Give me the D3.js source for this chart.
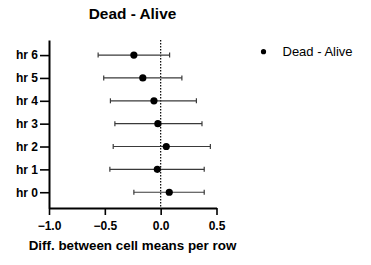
<!DOCTYPE html>
<html>
<head>
<meta charset="utf-8">
<script src="https://cdn.jsdelivr.net/npm/d3@7"></script>
<style>
  body { margin: 0; background: #fff; }
  svg { font-family: "Liberation Sans", Arial, Helvetica, sans-serif; }
</style>
</head>
<body>
<svg id="chart" width="371" height="265"></svg>
<script>
// rows, bottom to top
const rows = ["hr 0", "hr 1", "hr 2", "hr 3", "hr 4", "hr 5", "hr 6"];
const diffs = [0.077, -0.03, 0.05, -0.025, -0.06, -0.16, -0.24];
const lowerCI = [-0.24, -0.455, -0.425, -0.41, -0.45, -0.51, -0.56];
const upperCI = [0.39, 0.39, 0.445, 0.37, 0.32, 0.19, 0.08];
const xTicks = [-1.0, -0.5, 0.0, 0.5];
const seriesName = "Dead - Alive";

var margin = {top: 40, right: 155, bottom: 57, left: 49},
    width = 371,
    height = 265,
    usable_width = width - margin.left - margin.right,
    usable_height = height - margin.top - margin.bottom;

var data = rows.map(function(r, i) {
    return {row: r, idx: i, d: diffs[i], lo: lowerCI[i], hi: upperCI[i]};
});

var xScale = d3.scaleLinear().domain([-1, 0.5]).range([0, usable_width + 0.5]);
var yScale = d3.scaleLinear().domain([-0.69, 6.66]).range([usable_height, 0]);

var svg = d3.select("#chart");
var g = svg.append("g").attr("transform", "translate(" + margin.left + "," + margin.top + ")");

// zero reference line
g.append("line")
    .attr("x1", xScale(0)).attr("x2", xScale(0))
    .attr("y1", 0).attr("y2", usable_height)
    .attr("stroke", "#000").attr("stroke-width", 1.2)
    .attr("stroke-dasharray", "1.5,1.5");

// error bars
var bars = g.selectAll(".bar").data(data).enter().append("g").attr("class", "bar");
bars.append("line")
    .attr("x1", function(d){return xScale(d.lo)})
    .attr("x2", function(d){return xScale(d.hi)})
    .attr("y1", function(d){return yScale(d.idx)})
    .attr("y2", function(d){return yScale(d.idx)})
    .attr("stroke", "#3a3a3a").attr("stroke-width", 1.2);
["lo", "hi"].forEach(function(k) {
    bars.append("line")
        .attr("x1", function(d){return xScale(d[k])})
        .attr("x2", function(d){return xScale(d[k])})
        .attr("y1", function(d){return yScale(d.idx) - 2.5})
        .attr("y2", function(d){return yScale(d.idx) + 2.5})
        .attr("stroke", "#3a3a3a").attr("stroke-width", 1.2);
});
bars.append("circle")
    .attr("cx", function(d){return xScale(d.d)})
    .attr("cy", function(d){return yScale(d.idx)})
    .attr("r", 3.6)
    .attr("fill", "#000");

// axes
var xAxis = d3.axisBottom(xScale).tickValues(xTicks).tickFormat(d3.format(".1f")).tickSize(7).tickSizeOuter(0);
var yAxis = d3.axisLeft(yScale).tickValues(d3.range(rows.length))
    .tickFormat(function(i){return rows[i]}).tickSize(9).tickSizeOuter(0);

var gx = g.append("g").attr("transform", "translate(0," + usable_height + ")").call(xAxis);
var gy = g.append("g").call(yAxis);

[gx, gy].forEach(function(ax) {
    ax.attr("font-family", null).attr("font-size", null);
    ax.select(".domain").attr("stroke-width", 2);
    ax.selectAll(".tick line").attr("stroke-width", 1.6);
    ax.selectAll(".tick text")
        .attr("font-size", 12).attr("font-weight", "bold").attr("fill", "#000");
});
gx.selectAll(".tick text").attr("y", 13);
gy.selectAll(".tick text").attr("x", -11);

// title
svg.append("text")
    .attr("x", margin.left + usable_width / 2)
    .attr("y", 19)
    .attr("text-anchor", "middle")
    .attr("font-size", 15.4).attr("font-weight", "bold")
    .text(seriesName);

// x axis title
svg.append("text")
    .attr("x", margin.left + usable_width / 2)
    .attr("y", 250)
    .attr("text-anchor", "middle")
    .attr("font-size", 13.4).attr("font-weight", "bold")
    .text("Diff. between cell means per row");

// legend
var lg = svg.append("g").attr("transform", "translate(263.5,51.7)");
lg.append("circle").attr("r", 2.6).attr("fill", "#000");
lg.append("text").attr("x", 19).attr("y", 4.7).attr("font-size", 13).text(seriesName);
</script>
</body>
</html>
